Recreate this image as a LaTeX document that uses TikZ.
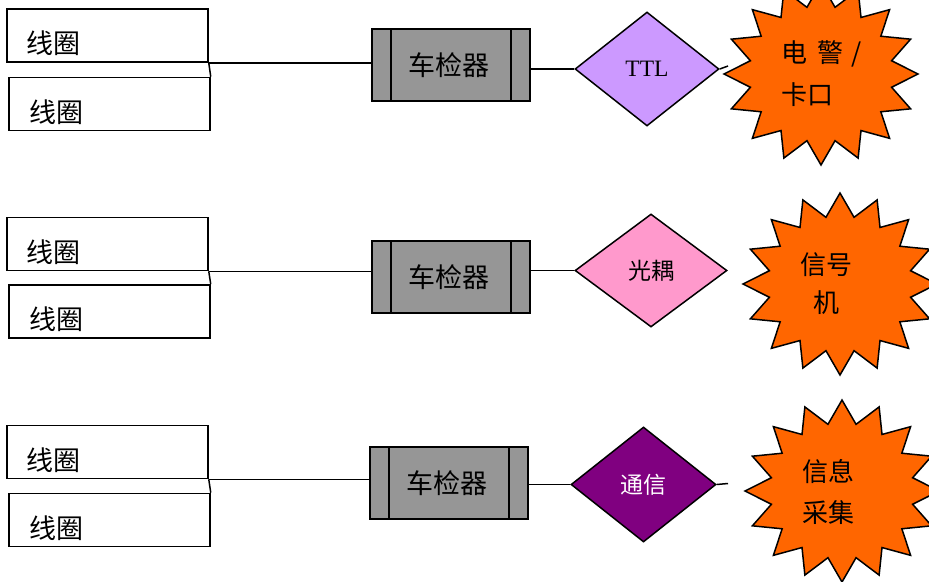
\documentclass[tikz,border=0pt]{standalone}
\usepackage{fontspec}
\setmainfont{Liberation Serif}
\newfontfamily\cjk{Noto Sans CJK SC}
\usetikzlibrary{shapes.geometric}
\definecolor{chkgray}{RGB}{150,150,150}
\definecolor{ttlc}{HTML}{CC99FF}
\definecolor{gkc}{HTML}{FF99CC}
\definecolor{txc}{HTML}{800080}
\definecolor{burstc}{HTML}{FF6600}
\begin{document}
\begin{tikzpicture}[x=1pt,y=-1pt,line width=1.5pt,
  coil/.style={draw,rectangle,minimum width=201pt,minimum height=53pt,
    inner xsep=20pt,inner ysep=0pt,text width=161pt,align=left,
    text height=36pt,text depth=0pt,font=\cjk\fontsize{27}{30}\selectfont},
  chk/.style={draw,rectangle,fill=chkgray,minimum width=158pt,minimum height=72pt,
    inner sep=0pt,font=\cjk\fontsize{27}{30}\selectfont,
    path picture={
      \draw ([xshift=19pt]path picture bounding box.north west) -- ([xshift=19pt]path picture bounding box.south west);
      \draw ([xshift=-19pt]path picture bounding box.north east) -- ([xshift=-19pt]path picture bounding box.south east);}},
  dia/.style={draw,diamond,inner sep=0pt},
  burst/.style={draw,fill=burstc,line join=miter},
  bursttext/.style={inner sep=0pt,font=\cjk\fontsize{26}{42}\selectfont}]
\useasboundingbox (0,0) rectangle (929,581);
\clip (0,0) rectangle (929,581);

% stars
\foreach \cx/\cy in {821/74, 840/284, 842/491}{
  \draw[burst] plot[variable=\i,samples at={0,...,31}]
    ({\cx+ifthenelse(iseven(\i),97,72)*cos(90+\i*11.25)},
     {\cy+ifthenelse(iseven(\i),91,68)*sin(90+\i*11.25)}) -- cycle;
}

% row 1
\node[coil] (a1) at (107.5,35.5) {线圈};
\node[coil] (b1) at (109.5,104) {线圈};
\node[chk] (c1) at (451,65) {\kern-4pt 车检器};
\node[dia,fill=ttlc,minimum width=144pt,minimum height=114pt,font=\fontsize{23.5}{26}\selectfont] (d1) at (647,69) {TTL};
\coordinate (e1) at (728,66);
\node[bursttext,align=left] (s1) at (822,74) {电\hspace{10pt}警\hspace{8pt}/\\卡口};

% row 2
\node[coil] (a2) at (107.5,244) {线圈};
\node[coil] (b2) at (109.5,311.5) {线圈};
\node[chk] (c2) at (451,277) {\kern-4pt 车检器};
\node[dia,fill=gkc,minimum width=152pt,minimum height=113pt,font=\cjk\fontsize{23}{26}\selectfont] (d2) at (651,270.5) {光耦};
\node[bursttext,align=center,font=\cjk\fontsize{26}{38}\selectfont] (s2) at (826,284) {信号\\机};

% row 3
\node[coil] (a3) at (107.5,452) {线圈};
\node[coil] (b3) at (109.5,520) {线圈};
\node[chk] (c3) at (449,483) {\kern-4pt 车检器};
\node[dia,fill=txc,text=white,minimum width=145pt,minimum height=115pt,font=\cjk\fontsize{23}{26}\selectfont] (d3) at (643.5,484.5) {通信};
\coordinate (e3) at (728,483.5);
\node[bursttext,align=center,font=\cjk\fontsize{26}{41}\selectfont] (s3) at (828,492) {信息\\采集};

% connectors
\foreach \r in {1,2,3}{
  \draw (a\r.south east) -- (b\r.north east);
  \draw (a\r.south east) -- (a\r.south east -| c\r.west);
  \draw (d\r.west -| c\r.east) -- (d\r.west);
}
\draw (d1.east) -- (e1);
\draw (d3.east) -- (e3);
\end{tikzpicture}
\end{document}
